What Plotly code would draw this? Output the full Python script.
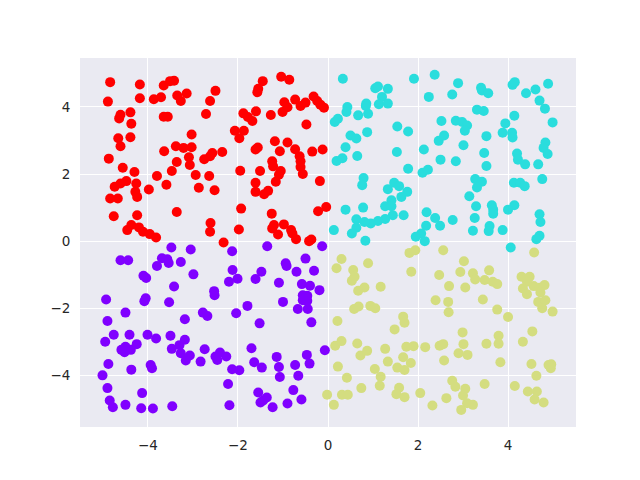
import plotly.graph_objects as go

# points, grouped by colour (rainbow colormap, 4 clusters)
red_x = [-4.84, -4.18, -4.89, -4.18, -3.65, -3.51, -3.42, -3.87, -3.71, -3.35, -3.27, -3.14,
         -4.61, -4.64, -4.39, -4.37, -3.65, -3.56, -4.66, -4.61, -4.39, -3.03, -4.87, -3.64,
         -3.38, -3.21, -3.03, -3.09, -3.36, -3.07, -4.56, -4.30, -3.47, -3.80, -2.94,
         -4.74, -4.61, -4.48, -4.26, -4.28, -4.24, -3.98, -3.59, -2.87, -4.84, -4.67, -4.76,
         -4.24, -3.36, -4.46, -4.37, -4.20, -4.11, -3.96, -3.82,
         -2.50, -2.62, -2.71, -1.45, -1.55, -1.57, -1.04, -0.86, -0.97, -0.73, -0.90, -1.01,
         -0.61, -0.50, -0.32, -0.24, -0.17, -0.09, -1.88, -1.78, -1.68, -1.60, -1.27, -0.48,
         -2.07, -1.97, -1.87, -1.18, -0.90, -1.61, -1.56, -1.07, -0.73, -0.63, -0.35, -0.12,
         -2.35, -2.57, -2.62, -2.75, -1.24, -1.22, -1.05, -1.09, -0.61, -0.61, -0.56, -1.95,
         -1.51, -2.64,
         -2.52, -1.61, -1.61, -1.42, -1.33, -1.16, -0.18, -1.93, -2.61, -2.62, -1.98, -2.32,
         -1.25, -1.20, -1.24, -1.11, -0.98, -0.82, -0.79, -0.71, -0.42, -0.37, -0.22, -0.04]
red_y = [4.74, 4.67, 4.16, 4.26, 4.64, 4.77, 4.78, 4.23, 4.29, 4.34, 4.18, 4.40,
         3.77, 3.66, 3.84, 3.50, 3.71, 3.71, 3.07, 2.83, 3.10, 3.18, 2.46, 2.68,
         2.83, 2.78, 2.80, 2.50, 2.36, 2.27, 2.19, 2.06, 2.09, 1.94, 1.97,
         1.62, 1.72, 1.79, 1.72, 1.47, 1.32, 1.54, 1.68, 1.59, 1.27, 1.27, 0.74,
         0.77, 0.87, 0.33, 0.48, 0.41, 0.28, 0.21, 0.11,
         4.48, 4.18, 3.79, 4.77, 4.54, 4.44, 4.90, 4.81, 4.14, 4.22, 3.99, 3.85,
         4.03, 4.13, 4.31, 4.18, 4.07, 3.98, 3.81, 3.70, 3.58, 3.87, 3.76, 3.48,
         3.29, 3.07, 3.29, 2.98, 2.94, 2.73, 2.79, 2.68, 2.74, 2.53, 2.67, 2.73,
         2.66, 2.63, 2.53, 2.44, 2.38, 2.23, 2.09, 1.98, 2.38, 2.21, 2.00, 2.10,
         2.09, 1.94,
         1.52, 1.74, 1.47, 1.40, 1.50, 1.77, 1.79, 0.97, 0.54, 0.28, 0.35, -0.04,
         0.82, 0.48, 0.38, 0.20, 0.50, 0.33, 0.23, 0.06, 0.00, 0.05, 0.89, 1.02]

purple_x = [-3.48, -3.05, -4.61, -4.44, -3.69, -3.57, -3.54, -3.80, -3.27, -2.99, -4.10, -4.04,
            -3.42, -4.93, -4.05, -4.08, -3.53,
            -4.50, -4.90, -3.18, -2.78, -4.76, -4.95, -4.41, -4.01, -3.82, -3.50, -3.18, -3.30,
            -3.47, -3.27, -3.07, -3.16, -2.83, -2.74, -4.50, -4.59, -4.52, -4.38, -4.25, -4.88,
            -4.37, -3.94, -3.91, -5.01, -4.90, -4.13, -4.85, -4.78, -4.50, -4.15, -3.89, -3.46,
            -2.13, -1.35, -0.13, -0.94, -0.92, -0.50, -0.70, -0.31, -2.12, -2.01, -2.20, -1.48,
            -1.61, -1.09, -0.58, -0.40, -0.19, -2.53, -2.52, -0.56, -0.46, -0.56, -0.46, -1.00,
            -1.79, -0.67, -0.45, -0.37, -2.04, -1.52, -2.68, -2.50, -2.40, -2.46, -2.26, -1.70,
            -2.13, -1.97, -1.64, -1.47, -1.14, -1.09, -1.07, -0.73, -0.66, -0.47, -0.41, -0.07,
            -2.22, -2.19, -1.55, -1.36, -1.44, -1.50, -1.23, -0.90, -0.77, -0.59]
purple_y = [-0.19, -0.25, -0.57, -0.57, -0.51, -0.54, -0.65, -0.74, -0.62, -0.99, -1.03, -1.10,
            -1.35, -1.74, -1.70, -1.79, -1.82,
            -2.13, -2.38, -2.33, -2.13, -2.79, -3.00, -2.79, -2.79, -2.90, -2.82, -2.94, -3.10,
            -3.21, -3.34, -3.41, -3.56, -3.59, -3.22, -3.15, -3.24, -3.31, -3.24, -3.07, -3.66,
            -3.83, -3.69, -3.79, -4.00, -4.38, -4.53, -4.75, -4.95, -4.88, -4.98, -4.99, -4.92,
            -0.30, -0.15, -0.15, -0.66, -0.74, -0.52, -0.91, -0.88, -0.86, -1.12, -1.21, -0.91,
            -1.13, -1.24, -1.28, -1.33, -1.46, -1.49, -1.61, -1.61, -1.63, -1.76, -1.78, -1.81,
            -1.93, -2.02, -2.02, -2.42, -2.15, -2.45, -2.23, -3.44, -3.32, -3.54, -3.44, -3.19,
            -3.82, -3.85, -3.61, -3.77, -3.45, -3.75, -4.05, -3.69, -4.01, -3.39, -3.65, -3.25,
            -4.26, -4.89, -4.51, -4.66, -4.75, -4.81, -4.95, -4.84, -4.44, -4.72]

cyan_x = [0.33, 1.05, 1.11, 1.33, 1.91, 2.37, 2.24, 2.76, 1.20, 1.13, 1.33, 0.85, 0.84,
          0.43, 0.41, 0.67, 0.89, 0.22, 0.15, 0.50, 0.63, 0.87, 1.54, 1.78, 0.39, 0.65,
          1.53, 2.13, 2.52, 2.46, 2.58, 0.19, 0.32, 2.50, 1.78, 2.10, 2.22, 0.79,
          2.89, 3.40, 3.42, 3.56, 4.10, 4.15, 4.40, 4.61, 4.89, 4.70, 4.82, 4.99, 3.31,
          3.46, 4.14, 2.84, 2.98, 3.09, 3.04, 3.94, 3.88, 4.09, 4.10, 3.52, 3.01, 3.47,
          4.83, 4.79, 4.88, 4.20, 4.22, 4.38, 4.67, 2.84, 3.52, 3.27, 3.42, 4.76,
          0.76, 1.33, 1.47, 1.58, 1.76, 1.63, 1.41, 1.27, 1.41, 1.44, 1.27, 1.11, 0.95,
          0.81, 0.63, 0.63, 0.53, 0.83, 0.39, 0.78, 0.13, 1.68, 2.19, 2.38, 2.49, 2.77,
          2.18, 2.07, 1.95, 2.15,
          3.31, 4.13, 4.27, 4.37, 3.14, 3.29, 3.64, 3.67, 3.67, 4.14, 4.00, 3.26, 4.70,
          4.72, 3.59, 3.57, 3.22, 3.88, 4.70, 4.63, 4.06]
cyan_y = [4.84, 4.56, 4.61, 4.54, 4.84, 4.96, 4.30, 4.37, 4.30, 4.08, 4.10, 4.10, 4.03,
          4.00, 3.85, 3.75, 3.80, 3.65, 3.55, 3.15, 3.06, 3.25, 3.42, 3.27, 2.80, 2.54,
          2.66, 2.73, 3.58, 2.99, 3.15, 2.39, 2.47, 2.43, 2.16, 2.04, 2.13, 1.88,
          4.71, 4.57, 4.49, 4.41, 4.66, 4.74, 4.41, 4.52, 4.69, 4.19, 3.95, 3.54, 3.92,
          3.88, 3.74, 3.59, 3.55, 3.45, 3.29, 3.51, 3.23, 3.23, 3.09, 3.13, 2.86, 2.63,
          2.94, 2.78, 2.60, 2.61, 2.43, 2.29, 2.29, 2.38, 2.24, 1.85, 1.77, 1.85,
          1.67, 1.55, 1.74, 1.64, 1.47, 1.32, 1.22, 1.04, 1.04, 0.77, 0.66, 0.60, 0.53,
          0.57, 0.65, 0.40, 0.23, 0.01, 0.94, 1.00, 0.33, 0.77, 0.86, 0.69, 0.46, 0.63,
          0.46, 0.23, 0.13, 0.00,
          1.60, 1.74, 1.74, 1.64, 1.34, 1.04, 1.07, 0.94, 0.82, 1.07, 0.94, 0.69, 0.80,
          0.57, 0.45, 0.30, 0.31, 0.33, 0.16, 0.06, -0.19]

yellow_x = [1.81, 1.94, 2.56, 0.30, 0.19, 0.89, 0.56, 0.59, 0.53, 1.85, 2.47, 2.69, 1.17,
            0.81, 0.67, 2.39, 2.67,
            0.58, 0.68, 0.94, 1.05, 0.21, 1.67, 1.70, 1.48, 2.68, 0.16, 0.30, 0.65, 0.72,
            0.87, 1.27, 0.22, 1.04, 1.33, 1.67, 1.74, 1.90, 2.16, 2.48, 2.56, 2.58, 1.54,
            1.70, 1.84, 1.17, 1.15, 0.42, 0.74, -0.02, 0.31, 0.44, 0.13, 1.58, 1.52, 1.70,
            2.05, 2.32, 2.63, 2.76,
            4.58, 3.02, 2.94, 3.22, 3.27, 3.58, 3.48, 3.66, 3.76, 3.05, 4.30, 4.48, 4.42,
            4.33, 4.42, 4.57, 4.70, 4.81, 4.72, 3.44, 4.67, 4.83,
            3.76, 4.00, 4.76, 4.99, 2.99, 3.01, 2.90, 3.10, 3.52, 3.79, 3.79, 3.83, 4.33,
            4.54, 4.52, 4.90, 4.96, 4.95, 4.63, 3.48, 4.15, 3.05, 3.00, 3.09, 3.22, 2.96,
            4.44, 4.64, 4.59, 4.79, 2.83]
yellow_y = [-0.35, -0.27, -0.27, -0.53, -0.81, -0.66, -0.86, -1.06, -1.18, -0.91, -1.01, -1.34, -1.36,
            -1.38, -1.48, -1.76, -1.81,
            -2.02, -1.95, -1.93, -2.00, -2.38, -2.25, -2.43, -2.63, -2.12, -3.12, -2.98, -3.05, -3.41,
            -3.27, -3.21, -3.74, -3.81, -3.59, -3.46, -3.15, -3.13, -3.16, -3.12, -3.07, -3.56, -3.77,
            -3.84, -3.63, -4.04, -4.31, -4.07, -4.38, -4.58, -4.58, -4.58, -4.88, -4.37, -4.56, -4.65,
            -4.53, -4.90, -4.68, -4.16,
            -0.34, -0.60, -0.92, -0.96, -1.14, -0.87, -1.16, -1.21, -1.28, -1.38, -1.06, -1.06, -1.21,
            -1.41, -1.58, -1.34, -1.39, -1.31, -1.53, -1.74, -1.81, -1.76,
            -2.04, -2.26, -2.00, -2.10, -2.72, -3.07, -3.34, -3.39, -3.06, -2.82, -3.06, -3.61, -3.00,
            -2.69, -3.66, -3.69, -3.67, -3.79, -4.01, -4.26, -4.32, -4.40, -4.60, -4.83, -4.88, -5.03,
            -4.48, -4.48, -4.72, -4.81, -4.34]

groups = [
    (purple_x, purple_y, "#8000ff"),
    (cyan_x, cyan_y, "#2adddd"),
    (yellow_x, yellow_y, "#d4dd80"),
    (red_x, red_y, "#ff0000"),
]

fig = go.Figure()
for xs, ys, col in groups:
    fig.add_trace(go.Scatter(x=xs, y=ys, mode="markers",
                             marker=dict(color=col, size=10, line=dict(width=0)),
                             showlegend=False, hoverinfo="skip"))

axis_style = dict(
    showgrid=True, gridcolor="white", gridwidth=1.3,
    zeroline=False, showline=False,
    ticks="outside", ticklen=6, tickcolor="rgba(0,0,0,0)",
    tickfont=dict(family="DejaVu Sans", size=13.5, color="#262626"),
    tickvals=[-4, -2, 0, 2, 4],
)

# the page body adds an 8px offset, so the figure is 8px smaller and margins shifted
fig.update_layout(
    width=632, height=472,
    margin=dict(l=72, r=64, t=50, b=53),
    paper_bgcolor="white",
    plot_bgcolor="#eaeaf2",
    xaxis=dict(range=[-5.51, 5.51], **axis_style),
    yaxis=dict(range=[-5.54, 5.46], **axis_style),
)

fig.write_html("out.html")
